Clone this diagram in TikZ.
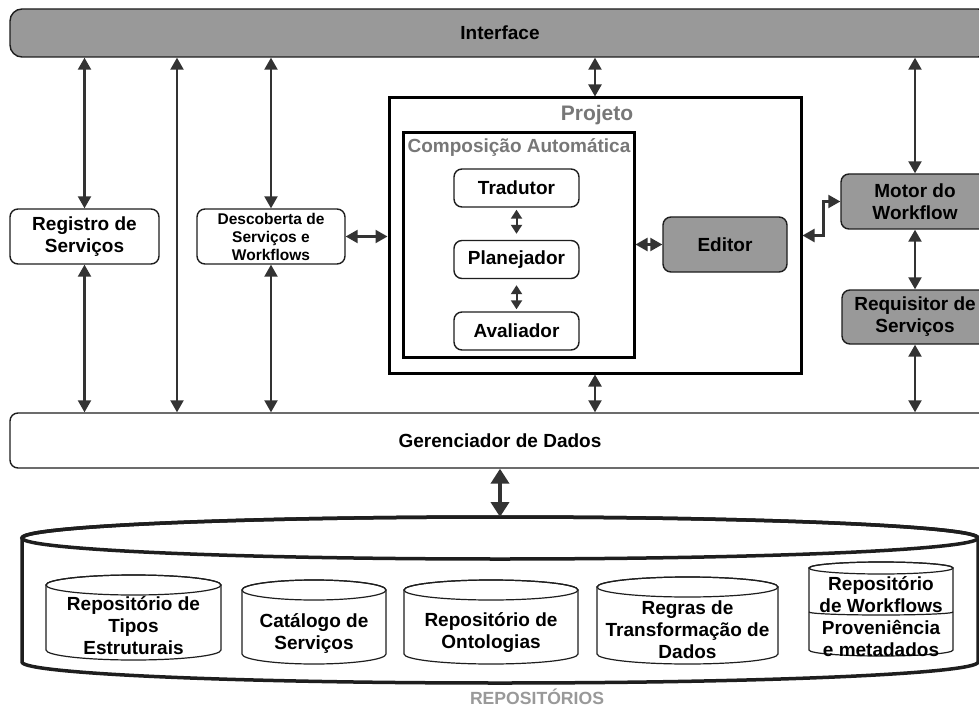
\documentclass[tikz,border=0pt]{standalone}
\usepackage{fontspec}
\setmainfont{Liberation Sans}
\usetikzlibrary{arrows.meta,calc}
\definecolor{linec}{HTML}{1E1E1E}
\definecolor{arrc}{HTML}{333333}
\definecolor{boxgray}{HTML}{999999}
\definecolor{titlegray}{HTML}{777777}
\definecolor{repgray}{HTML}{999999}
\newcommand\bfnt{\fontsize{19}{22}\selectfont\bfseries}
\newcommand\sfnt{\fontsize{15.5}{18}\selectfont\bfseries}
\newcommand\pfnt{\fontsize{21}{24}\selectfont\bfseries}
\newcommand\rfnt{\fontsize{17.6}{20}\selectfont\bfseries}
% cx, ytop, ybot, rx, ry, line width
\newcommand\dbcyl[6]{%
  \filldraw[fill=white, draw=linec, line width=#6]
    ({#1-#4},{#2+#5}) -- ({#1-#4},{#3-#5})
    arc[start angle=180, end angle=0, x radius=#4, y radius=#5]
    -- ({#1+#4},{#2+#5})
    arc[start angle=0, end angle=-180, x radius=#4, y radius=#5] -- cycle;
  \draw[linec, line width=#6] ({#1},{#2+#5}) ellipse[x radius=#4, y radius=#5];
}
\begin{document}
\begin{tikzpicture}[x=1pt,y=-1pt,
  box/.style={draw=linec, line width=1.4pt, rounded corners=8pt, fill=white,
    align=center, font=\bfnt, inner sep=0pt},
  gbox/.style={box, fill=boxgray},
  frame/.style={draw=black, line width=3pt, inner sep=0pt},
  arr/.style={draw=arrc, line width=2.2pt,
    {Triangle[length=12pt,width=13pt]}-{Triangle[length=12pt,width=13pt]}},
  sarr/.style={draw=arrc, line width=2pt,
    {Triangle[length=9pt,width=11pt]}-{Triangle[length=9pt,width=11pt]}},
  bigarr/.style={draw=arrc, line width=4.5pt,
    {Triangle[length=15pt,width=18pt]}-{Triangle[length=15pt,width=18pt]}},
  lbl/.style={align=center, font=\bfnt, inner sep=0pt}
]
\useasboundingbox (0,0) rectangle (979,711);
\clip (0,0) rectangle (979,711);
\fill[white] (0,0) rectangle (979,711);

% top and bottom bars
\node[gbox, minimum width=980pt, minimum height=48pt, rounded corners=12pt] (iface) at (500,33) {Interface};
\node[box, minimum width=980pt, minimum height=55pt] (ger) at (500,440.5) {Gerenciador de Dados};

% left boxes
\node[box, minimum width=149pt, minimum height=55pt] (reg) at (84.5,236.5) {Registro de\\Serviços};
\node[box, font=\sfnt, minimum width=148pt, minimum height=55pt] (desc) at (271,236.5) {Descoberta de\\Serviços e\\Workflows};
\coordinate (xl) at (177,0);

% Projeto
\node[frame, minimum width=412pt, minimum height=275pt] (proj) at (595,235.5) {};
\node[inner sep=0pt, font=\pfnt, text=titlegray] (projt) at (597,115.5) {Projeto};
\node[frame, minimum width=231pt, minimum height=224pt] (comp) at (518.5,245) {};
\node[inner sep=0pt, font=\bfnt, text=titlegray] (compt) at (519,147.5) {Composição Automática};
\node[box, minimum width=125pt, minimum height=38pt] (trad) at (516.5,188) {Tradutor};
\node[box, minimum width=125pt, minimum height=38pt] (plan) at (516.5,259.5) {Planejador};
\node[box, minimum width=125pt, minimum height=38pt] (aval) at (516.5,331) {Avaliador};
\node[gbox, minimum width=124pt, minimum height=55pt] (edit) at (725,244.5) {Editor};

% right boxes
\node[gbox, minimum width=148pt, minimum height=55pt] (motor) at (915,201.5) {Motor do\\Workflow};
\node[gbox, minimum width=146pt, minimum height=54pt] (req) at (915,317) {Requisitor de\\Serviços};

% connectors
\draw[arr] (reg.north) -- (reg.north |- iface.south);
\draw[arr] (reg.south) -- (reg.south |- ger.north);
\draw[arr] (xl |- iface.south) -- (xl |- ger.north);
\draw[arr] (desc.north) -- (desc.north |- iface.south);
\draw[arr] (desc.south) -- (desc.south |- ger.north);
\draw[arr] (desc.east) -- (desc.east -| proj.west);
\draw[arr] (proj.north) -- (proj.north |- iface.south);
\draw[arr] (proj.south) -- (proj.south |- ger.north);
\draw[sarr, shorten <=2pt, shorten >=6pt] (trad.south) -- (plan.north);
\draw[sarr, shorten <=6pt, shorten >=2pt] (plan.south) -- (aval.north);
\draw[arr] (edit.west) -- (edit.west -| comp.east);
\draw[arr] (proj.east) -- ++(21,0) |- (motor.west);
\draw[arr] (motor.north) -- (motor.north |- iface.south);
\draw[arr] (motor.south) -- (req.north);
\draw[arr] (req.south) -- (req.south |- ger.north);

% repositories
\dbcyl{500}{517}{683}{478}{21}{3.5pt}
\coordinate (repotop) at (500,517);
\draw[bigarr] (ger.south) -- (repotop);

\dbcyl{133.5}{575}{660}{87.5}{10}{1.2pt}
\dbcyl{314}{580}{664}{72}{10}{1.2pt}
\dbcyl{491}{580}{664}{87}{10}{1.2pt}
\dbcyl{687.5}{577}{664}{90.5}{10}{1.2pt}
\dbcyl{881}{562}{656}{72}{6}{1.2pt}
\draw[linec, line width=1.2pt] (809,612) arc[start angle=180, end angle=0, x radius=72, y radius=3];

\node[lbl] (c1) at (133.5,626) {Repositório de\\Tipos\\Estruturais};
\node[lbl] (c2) at (314,633) {Catálogo de\\Serviços};
\node[lbl] (c3) at (491,633) {Repositório de\\Ontologias};
\node[lbl] (c4) at (687.5,630) {Regras de\\Transformação de\\Dados};
\node[lbl] (c5a) at (881,595) {Repositório\\de Workflows};
\node[lbl] (c5b) at (881,638) {Proveniência\\e metadados};
\node[inner sep=0pt, font=\rfnt, text=repgray] (rept) at (537,697) {REPOSITÓRIOS};
\end{tikzpicture}
\end{document}
